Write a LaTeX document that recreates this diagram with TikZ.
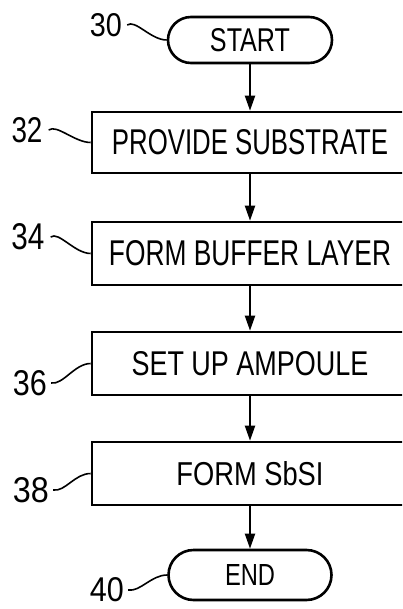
\documentclass[tikz,border=0pt]{standalone}
\usepackage{fontspec}
\setmainfont{Liberation Sans}
\usetikzlibrary{arrows.meta}
\begin{document}
\begin{tikzpicture}[x=1pt,y=-1pt,
  stepbox/.style={draw, line width=2.6pt, minimum width=316pt, inner sep=0pt},
  term/.style={draw, line width=2.6pt, rounded corners=23pt, inner sep=0pt},
  flow/.style={line width=2pt, -{Triangle[length=15pt,width=10pt]}},
  tag/.style={line width=1.6pt},
  num/.style={inner sep=0pt}]
\clip (0,0) rectangle (402,609);
\fill[white] (0,0) rectangle (402,609);
% flow nodes
\node[term, minimum width=164pt, minimum height=46pt] (start) at (250,40) {\resizebox{80pt}{23pt}{START}};
\node[stepbox, minimum height=61pt] (p32) at (250,142.5) {\resizebox{276pt}{25pt}{PROVIDE SUBSTRATE}};
\node[stepbox, minimum height=63pt] (p34) at (250,253.5) {\resizebox{282pt}{25pt}{FORM BUFFER LAYER}};
\node[stepbox, minimum height=63pt] (p36) at (250,363.5) {\resizebox{237pt}{24pt}{SET UP AMPOULE}};
\node[stepbox, minimum height=63pt] (p38) at (250,473.5) {\resizebox{147pt}{24pt}{FORM SbSI}};
\node[term, minimum width=163pt, minimum height=50pt, rounded corners=25pt] (stop) at (250,575) {\resizebox{50pt}{21pt}{END}};
% arrows
\draw[flow] (start.south) -- (p32.north);
\draw[flow] (p32.south) -- (p34.north);
\draw[flow] (p34.south) -- (p36.north);
\draw[flow] (p36.south) -- (p38.north);
\draw[flow] (p38.south) -- (stop.north);
% reference numerals
\node[num] (n30) at (106,25) {\resizebox{32pt}{23pt}{30}};
\node[num] (n32) at (27,130) {\resizebox{31pt}{25pt}{32}};
\node[num] (n34) at (28,237) {\resizebox{33pt}{26pt}{34}};
\node[num] (n36) at (30,383) {\resizebox{34pt}{25pt}{36}};
\node[num] (n38) at (31,490) {\resizebox{36pt}{25pt}{38}};
\node[num] (n40) at (107,590) {\resizebox{34pt}{24pt}{40}};
% leader squiggles
\draw[tag] ([xshift=5pt]n30.east) .. controls +(8,-6) and +(-16,0) .. (start.west);
\draw[tag] ([xshift=6pt]n32.east) .. controls +(8,-6) and +(-16,0) .. (p32.west);
\draw[tag] ([xshift=6pt]n34.east) .. controls +(8,-6) and +(-16,0) .. (p34.west);
\draw[tag] ([xshift=4pt]n36.east) .. controls +(12,2) and +(-16,0) .. (p36.west);
\draw[tag] ([xshift=4pt]n38.east) .. controls +(12,2) and +(-16,0) .. (p38.west);
\draw[tag] ([xshift=4pt]n40.east) .. controls +(12,2) and +(-16,0) .. (stop.west);
\end{tikzpicture}
\end{document}
